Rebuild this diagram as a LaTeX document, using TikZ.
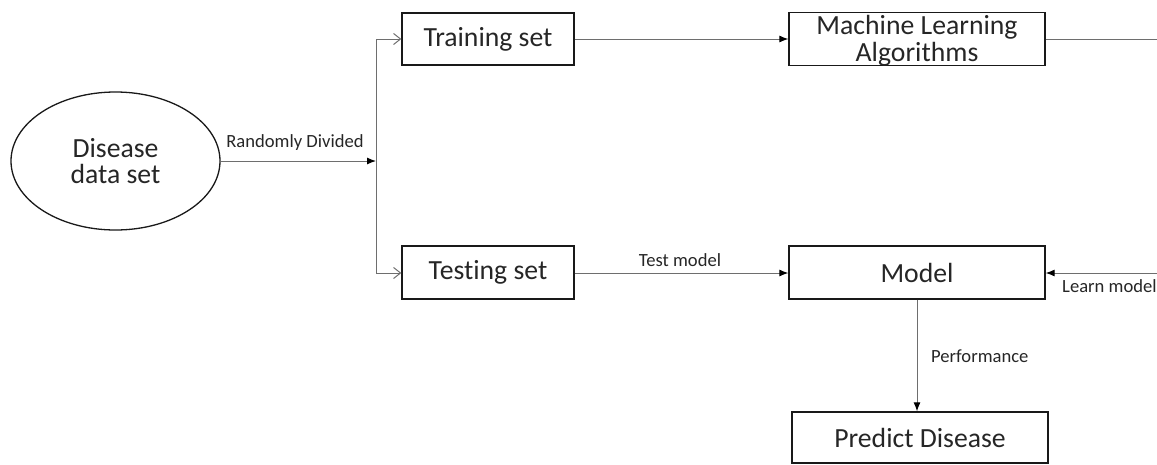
\documentclass[tikz,border=0pt]{standalone}
\usepackage{fontspec}
\setmainfont{Carlito}[Ligatures={NoCommon}]
\usetikzlibrary{shapes.geometric,arrows.meta}
\definecolor{conn}{HTML}{6E6E6E}
\tikzset{
  boxnode/.style={draw=black!90, line width=1.3pt, rectangle, inner sep=0pt, align=center,
     font=\fontsize{27.7}{26}\selectfont, text=black!85},
  conline/.style={draw=conn, line width=1pt},
  filledtip/.style={conline, arrows={-{Latex[length=9pt,width=7pt,color=black]}}},
  opentip/.style={conline, -{Straight Barb[length=7pt,width=11pt,line width=1pt]}},
  smalllabel/.style={font=\fontsize{18.6}{22}\selectfont, text=black!85, inner sep=0pt}
}
\begin{document}
\begin{tikzpicture}[x=1pt,y=-1pt]
\useasboundingbox (0,0) rectangle (1157,464);
% nodes
\node[boxnode, ellipse, minimum width=209pt, minimum height=138pt] (disease) at (115.5,161) {Disease\\data set};
\node[boxnode, minimum width=172pt, minimum height=52pt] (train) at (488,39) {Training set};
\node[boxnode, minimum width=172pt, minimum height=53pt] (test) at (488,272.5) {Testing set};
\node[boxnode, minimum width=256pt, minimum height=52pt, font=\fontsize{27.7}{24.5}\selectfont] (ml) at (917,39)
  {\raisebox{-3pt}[\height][\depth]{\begin{tabular}{@{}c@{}}Machine Learning\\Algorithms\end{tabular}}};
\node[boxnode, minimum width=256pt, minimum height=53pt] (model) at (917,272.5) {Model};
\node[boxnode, minimum width=256pt, minimum height=51pt] (predict) at (920,437.5) {Predict Disease};
% coordinates
\coordinate (split) at (376,161);
\coordinate (splittop) at (376,39);
\coordinate (splitbot) at (376,273);
\coordinate (rightA) at (1157,39);
\coordinate (rightB) at (1157,273);
% connectors
\draw[filledtip] (disease.east |- split) -- (split);
\draw[conline] (splittop) -- (splitbot);
\draw[opentip] (splittop) -- (train.west |- splittop);
\draw[opentip] (splitbot) -- (test.west |- splitbot);
\draw[filledtip] (train.east) -- (ml.west);
\draw[conline] (ml.east) -- (rightA);
\draw[filledtip] (test.east |- splitbot) -- (model.west |- splitbot);
\draw[filledtip] (rightB) -- (model.east |- rightB);
\draw[filledtip] (model.south) -- (model.south |- predict.north);
% labels
\node[smalllabel] (lblrand) at (295,143) {Randomly Divided};
\node[smalllabel] (lbltest) at (680,260) {Test model};
\node[smalllabel, anchor=west] (lbllearn) at (1062,286) {Learn model};
\node[smalllabel, anchor=west] (lblperf) at (931,356) {Performance};
\end{tikzpicture}
\end{document}
